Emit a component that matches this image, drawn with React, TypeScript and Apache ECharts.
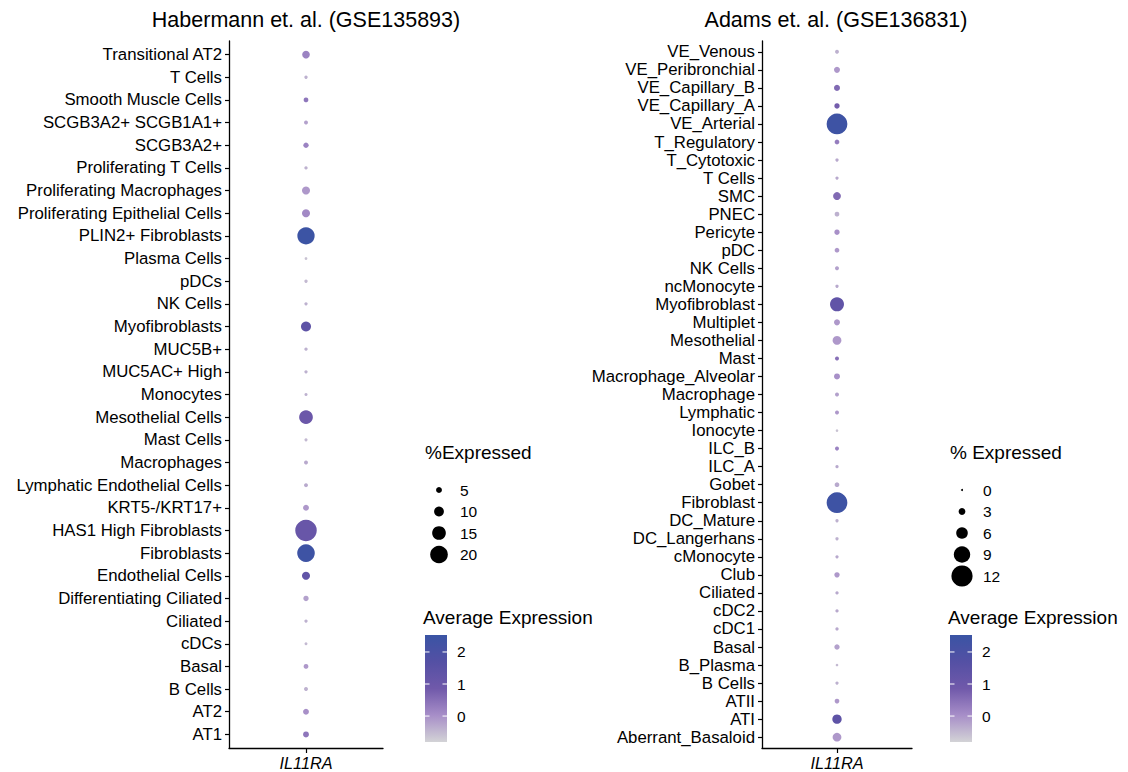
import React, { useEffect, useRef } from "react";
import * as echarts from "echarts";

const gene = ["IL11RA"];

const catsL = [
  "Transitional AT2", "T Cells", "Smooth Muscle Cells", "SCGB3A2+ SCGB1A1+", "SCGB3A2+",
  "Proliferating T Cells", "Proliferating Macrophages", "Proliferating Epithelial Cells",
  "PLIN2+ Fibroblasts", "Plasma Cells", "pDCs", "NK Cells", "Myofibroblasts", "MUC5B+",
  "MUC5AC+ High", "Monocytes", "Mesothelial Cells", "Mast Cells", "Macrophages",
  "Lymphatic Endothelial Cells", "KRT5-/KRT17+", "HAS1 High Fibroblasts", "Fibroblasts",
  "Endothelial Cells", "Differentiating Ciliated", "Ciliated", "cDCs", "Basal", "B Cells",
  "AT2", "AT1",
];
const pctL = [
  7.3, 1.7, 3.5, 2.5, 4.3, 1.7, 7.7, 7.7, 19.6, 1.0, 1.7, 1.7, 10.3, 1.7, 1.7, 1.5,
  15, 1.5, 2.5, 2.5, 5, 25, 20, 7.7, 4.3, 1.7, 1.2, 3.5, 2.5, 5, 5,
];
const avgL = [
  0.2, -0.4, 0.4, -0.2, 0.2, -0.4, -0.1, 0.1, 2.45, -0.6, -0.5, -0.4, 1.4, -0.4, -0.4, -0.4,
  1.0, -0.5, -0.3, -0.3, -0.1, 1.1, 2.4, 1.3, -0.2, -0.4, -0.5, -0.1, -0.4, 0.0, 0.4,
];

const catsR = [
  "VE_Venous", "VE_Peribronchial", "VE_Capillary_B", "VE_Capillary_A", "VE_Arterial",
  "T_Regulatory", "T_Cytotoxic", "T Cells", "SMC", "PNEC", "Pericyte", "pDC", "NK Cells",
  "ncMonocyte", "Myofibroblast", "Multiplet", "Mesothelial", "Mast", "Macrophage_Alveolar",
  "Macrophage", "Lymphatic", "Ionocyte", "ILC_B", "ILC_A", "Gobet", "Fibroblast",
  "DC_Mature", "DC_Langerhans", "cMonocyte", "Club", "Ciliated", "cDC2", "cDC1", "Basal",
  "B_Plasma", "B Cells", "ATII", "ATI", "Aberrant_Basaloid",
];
const pctR = [
  1.2, 2.5, 2.5, 2.1, 11.7, 1.7, 0.8, 0.8, 3.7, 1.7, 2.1, 1.7, 1.25, 0.8, 7.5, 2.5, 4.2,
  1.25, 2.5, 1.25, 1.25, 0.4, 1.25, 0.8, 1.7, 11.7, 0.8, 0.8, 0.8, 2.1, 0.8, 0.8, 0.8, 2.1,
  0.4, 0.8, 1.7, 4.6, 4.2,
];
const avgR = [
  -0.4, -0.1, 0.6, 0.8, 2.4, 0.3, -0.3, -0.3, 0.6, -0.4, 0.0, -0.1, -0.2, -0.3, 1.3, -0.1,
  -0.1, 0.5, 0.0, -0.2, -0.1, -0.6, 0.2, -0.3, -0.3, 2.4, -0.4, -0.4, -0.3, -0.1, -0.3,
  -0.3, -0.3, -0.2, -0.5, -0.4, -0.1, 1.4, -0.1,
];

const sizeBreaksL = [5, 10, 15, 20];
const sizeBreaksR = [0, 3, 6, 9, 12];
const colorTicks = [0, 1, 2];
const colorMin = -0.81;
const colorMax = 2.53;
const palette = ["#d3d3d6", "#a78ec8", "#7059aa", "#5450a4", "#3a54a4"];

const FONT = "'Liberation Sans', Arial, sans-serif";
const sizeL = (v: number) => 2 + 0.78 * v;
const sizeR = (v: number) => 2 + 1.6 * v;

function textEl(text: string, x: number, y: number, size: number, align = "left", style: any = {}) {
  return {
    type: "text",
    x,
    y,
    silent: true,
    style: {
      text,
      fill: "#000",
      font: `${style.italic ? "italic " : ""}${size}px ${FONT}`,
      align,
      textAlign: align,
      verticalAlign: "middle",
      textVerticalAlign: "middle",
    },
  };
}

function legendBlock(
  x0: number,
  sizeTitle: string,
  breaks: number[],
  sizeFn: (v: number) => number,
  dotX: number,
  labelX: number
) {
  const els: any[] = [];
  els.push(textEl(sizeTitle, x0, 452, 19));
  const ys = [490, 511.5, 533, 554.5, 576];
  breaks.forEach((b, i) => {
    els.push({
      type: "circle",
      silent: true,
      shape: { cx: dotX, cy: ys[i], r: sizeFn(b) / 2 },
      style: { fill: "#000" },
    });
    els.push(textEl(String(b), labelX, ys[i], 15.5));
  });
  els.push(textEl("Average Expression", x0 - 2, 617, 19));
  const bx = x0, by = 635, bw = 22, bh = 107;
  els.push({
    type: "rect",
    silent: true,
    shape: { x: bx, y: by, width: bw, height: bh },
    style: {
      fill: {
        type: "linear", x: 0, y: 1, x2: 0, y2: 0,
        colorStops: palette.map((c, i) => ({ offset: i / (palette.length - 1), color: c })),
      },
    },
  });
  colorTicks.forEach((t) => {
    const ty = by + bh - ((t - colorMin) / (colorMax - colorMin)) * bh;
    els.push({ type: "line", silent: true, shape: { x1: bx, y1: ty, x2: bx + 4.5, y2: ty }, style: { stroke: "#fff", lineWidth: 1 } });
    els.push({ type: "line", silent: true, shape: { x1: bx + bw - 4.5, y1: ty, x2: bx + bw, y2: ty }, style: { stroke: "#fff", lineWidth: 1 } });
    els.push(textEl(String(t), bx + bw + 10, ty, 15.5));
  });
  return els;
}

function yAxisFor(gridIndex: number, cats: string[]) {
  const idx = cats.map((_, i) => i);
  return {
    type: "value",
    gridIndex,
    min: -0.6,
    max: cats.length - 0.4,
    inverse: true,
    splitLine: { show: false },
    axisLine: { show: true, onZero: false, lineStyle: { color: "#000", width: 1.3 } },
    axisTick: { show: true, length: 4, customValues: idx, lineStyle: { color: "#000", width: 1.2 } },
    axisLabel: {
      customValues: idx,
      formatter: (v: number) => cats[Math.round(v)] ?? "",
      color: "#000",
      fontSize: 16.8,
      fontFamily: FONT,
      margin: 7,
    },
  };
}

function xAxisFor(gridIndex: number) {
  return {
    type: "category",
    gridIndex,
    position: "bottom",
    data: gene,
    boundaryGap: true,
    axisLine: { show: true, onZero: false, lineStyle: { color: "#000", width: 1.3 } },
    axisTick: { show: true, alignWithLabel: true, length: 5, lineStyle: { color: "#000", width: 1.2 } },
    axisLabel: { color: "#000", fontSize: 16.3, fontStyle: "italic", fontFamily: FONT, margin: 7 },
    splitLine: { show: false },
  };
}

export default function App() {
  const ref = useRef<HTMLDivElement>(null);
  useEffect(() => {
    document.body.style.margin = "0";
    const chart = echarts.init(ref.current!, null, { renderer: "svg" });
    const option: any = {
      animation: false,
      backgroundColor: "#fff",
      textStyle: { fontFamily: FONT },
      grid: [
        { left: 229, top: 41, width: 154, height: 707 },
        { left: 762, top: 41, width: 150, height: 707 },
      ],
      xAxis: [xAxisFor(0), xAxisFor(1)],
      yAxis: [yAxisFor(0, catsL), yAxisFor(1, catsR)],
      visualMap: {
        type: "continuous",
        show: false,
        min: colorMin,
        max: colorMax,
        dimension: 2,
        seriesIndex: [0, 1],
        inRange: { color: palette },
      },
      series: [
        {
          type: "scatter",
          xAxisIndex: 0,
          yAxisIndex: 0,
          data: catsL.map((_, i) => [0, i, avgL[i], pctL[i]]),
          symbolSize: (d: number[]) => sizeL(d[3]),
          itemStyle: { opacity: 1 },
        },
        {
          type: "scatter",
          xAxisIndex: 1,
          yAxisIndex: 1,
          data: catsR.map((_, i) => [0, i, avgR[i], pctR[i]]),
          symbolSize: (d: number[]) => sizeR(d[3]),
          itemStyle: { opacity: 1 },
        },
      ],
      graphic: [
        textEl("Habermann et. al. (GSE135893)", 306, 20, 21.5, "center"),
        textEl("Adams et. al. (GSE136831)", 836, 20, 21.5, "center"),
        ...legendBlock(425, "%Expressed", sizeBreaksL, sizeL, 439, 460),
        ...legendBlock(950, "% Expressed", sizeBreaksR, sizeR, 962, 983),
      ],
    };
    chart.setOption(option);
    return () => chart.dispose();
  }, []);
  return <div ref={ref} style={{ width: 1128, height: 772 }} />;
}
